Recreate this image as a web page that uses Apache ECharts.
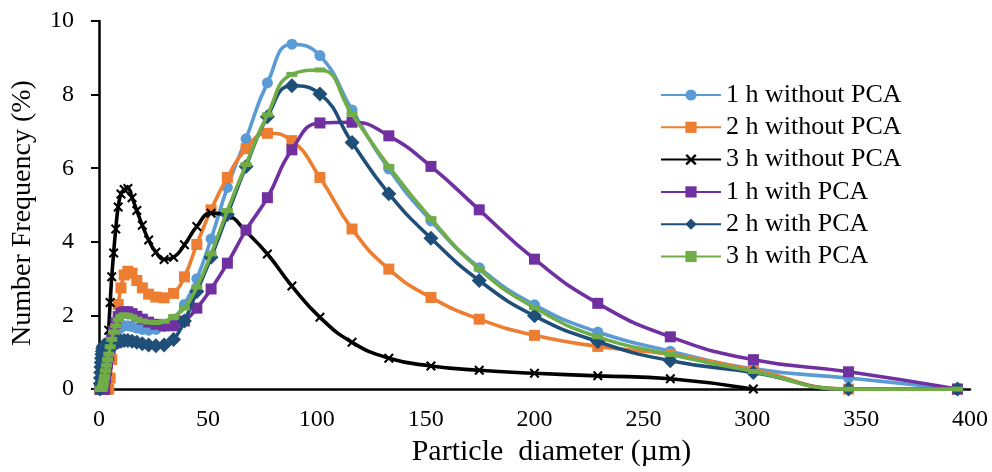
<!DOCTYPE html>
<html>
<head>
<meta charset="utf-8">
<script src="https://cdn.jsdelivr.net/npm/echarts@6/dist/echarts.min.js"></script>
<style>
html,body{margin:0;padding:0;background:#fff;}
#c{width:992px;height:472px;}
</style>
</head>
<body>
<div id="c"></div>
<script>
// Particle size bins (µm)
var bins = [0.510, 0.584, 0.669, 0.766, 0.877, 1.005, 1.151, 1.318, 1.510, 1.729,
  1.981, 2.269, 2.599, 2.976, 3.409, 3.905, 4.472, 5.122, 5.867, 6.720,
  7.697, 8.816, 10.097, 11.565, 13.246, 15.172, 17.377, 19.904, 22.797, 26.111,
  29.907, 34.255, 39.234, 44.938, 51.471, 58.953, 67.523, 77.339, 88.583, 101.46,
  116.21, 133.10, 152.45, 174.62, 200.00, 229.07, 262.37, 300.52, 344.21, 394.24];

var seriesNames = ["1 h without PCA", "2 h without PCA", "3 h without PCA",
  "1 h with PCA", "2 h with PCA", "3 h with PCA"];

var h1NoPCA = [0,0,0,0,0,0,0,0,0,0,
  0,0.15,0.3,0.45,0.6,0.75,0.9,1.05,1.2,1.35,
  1.5,1.6,1.68,1.72,1.72,1.7,1.66,1.62,1.6,1.62,
  1.7,1.9,2.3,3.0,4.08,5.48,6.8,8.32,9.37,9.06,
  7.58,5.98,4.57,3.30,2.29,1.55,1.03,0.55,0.3,0];

var h2NoPCA = [0,0,0,0,0,0,0,0,0,0,
  0,0,0,0,0,0,0,0.3,0.8,1.3,
  1.8,2.3,2.75,3.1,3.2,3.15,2.95,2.75,2.58,2.5,
  2.48,2.6,3.05,3.93,4.87,5.75,6.53,6.95,6.75,5.75,
  4.35,3.26,2.49,1.90,1.46,1.16,0.94,0.52,0,0];

var h3NoPCA = [0,0,0,0,0,0,0,0,0,0,
  0,0,0,0,0.3,0.9,1.6,2.35,3.05,3.7,
  4.35,4.95,5.3,5.42,5.45,5.2,4.85,4.45,4.05,3.72,
  3.52,3.58,3.92,4.42,4.78,4.72,4.28,3.67,2.8,1.95,
  1.27,0.84,0.63,0.51,0.43,0.36,0.28,0,null,null];

var h1PCA = [0,0,0,0,0,0,0,0,0,0,
  0,0,0,0.3,0.5,0.7,0.9,1.1,1.35,1.58,
  1.8,1.97,2.07,2.1,2.1,2.05,1.98,1.9,1.82,1.76,
  1.72,1.72,1.85,2.2,2.72,3.42,4.32,5.2,6.5,7.23,
  7.25,6.88,6.05,4.87,3.53,2.33,1.42,0.8,0.47,0];

var h2PCA = [0,0.15,0.3,0.45,0.6,0.72,0.84,0.95,1.03,1.1,
  1.15,1.18,1.2,1.2,1.18,1.15,1.12,1.12,1.16,1.2,
  1.25,1.28,1.3,1.32,1.32,1.3,1.27,1.23,1.2,1.18,
  1.2,1.35,1.85,2.65,3.58,4.74,6.05,7.4,8.24,8.02,
  6.7,5.31,4.1,2.95,1.99,1.29,0.77,0.45,0,0];

var h3PCA = [0,0,0,0,0,0,0,0,0,0.08,
  0.15,0.25,0.35,0.5,0.65,0.8,0.95,1.15,1.35,1.55,
  1.72,1.88,1.98,2.02,2.0,1.96,1.9,1.85,1.82,1.81,
  1.84,1.97,2.2,2.77,3.67,4.85,6.1,7.45,8.55,8.67,
  7.47,6.05,4.63,3.26,2.21,1.42,0.94,0.48,0,0];

var xTicks = {min: 0, max: 400, interval: 50};
var yTicks = {min: 0, max: 10, interval: 2};

var colors = ["#5B9BD5", "#ED7D31", "#000000", "#7030A0", "#1F4E79", "#70AD47"];
var symbols = ["circle", "rect",
  "path://M0,1.5L1.5,0L5,3.5L8.5,0L10,1.5L6.5,5L10,8.5L8.5,10L5,6.5L1.5,10L0,8.5L3.5,5Z",
  "rect", "diamond", "rect"];
var symbolSizes = [11, 11, 10, 11, 15, [11, 5]];
var allData = [h1NoPCA, h2NoPCA, h3NoPCA, h1PCA, h2PCA, h3PCA];

function pairs(arr) {
  var out = [];
  for (var i = 0; i < bins.length; i++) {
    if (arr[i] !== null && arr[i] !== undefined) out.push([bins[i], arr[i]]);
  }
  return out;
}

var font = "'Liberation Serif', 'Times New Roman', serif";

var series = allData.map(function (arr, k) {
  return {
    name: seriesNames[k],
    type: 'line',
    data: pairs(arr),
    smooth: 0.5,
    symbol: symbols[k],
    symbolSize: symbolSizes[k],
    symbolKeepAspect: true,
    showAllSymbol: true,
    lineStyle: {color: colors[k], width: 3.6},
    itemStyle: {color: colors[k]},
    z: 2 + k
  };
});

var chart = echarts.init(document.getElementById('c'));
chart.setOption({
  animation: false,
  backgroundColor: '#ffffff',
  color: colors,
  grid: {left: 99, right: 22, top: 21, bottom: 69.5, containLabel: false},
  legend: {
    orient: 'vertical',
    left: 655,
    top: 77,
    itemWidth: 60,
    itemHeight: 14,
    itemGap: 6.3,
    data: seriesNames,
    textStyle: {fontFamily: font, fontSize: 26, color: '#000', lineHeight: 26}
  },
  xAxis: {
    type: 'value',
    min: xTicks.min, max: xTicks.max, interval: xTicks.interval,
    name: 'Particle  diameter (µm)',
    nameLocation: 'middle',
    nameGap: 41,
    nameTextStyle: {fontFamily: font, fontSize: 30, color: '#000', padding: [0, 0, 0, 34]},
    axisLine: {show: true, onZero: false, lineStyle: {color: '#000', width: 2.5}},
    axisTick: {show: false},
    splitLine: {show: false},
    axisLabel: {fontFamily: font, fontSize: 24, color: '#000', margin: 19}
  },
  yAxis: {
    type: 'value',
    min: yTicks.min, max: yTicks.max, interval: yTicks.interval,
    name: 'Number Frequency (%)',
    nameLocation: 'middle',
    nameGap: 62,
    nameRotate: 90,
    nameTextStyle: {fontFamily: font, fontSize: 28, color: '#000', padding: [0, 16, 0, 0]},
    axisLine: {show: true, onZero: false, lineStyle: {color: '#000', width: 2.5}},
    axisTick: {show: true, inside: false, length: 8, lineStyle: {color: '#000', width: 2}},
    splitLine: {show: false},
    axisLabel: {fontFamily: font, fontSize: 24, color: '#000', margin: 25}
  },
  series: series
});
</script>
</body>
</html>
